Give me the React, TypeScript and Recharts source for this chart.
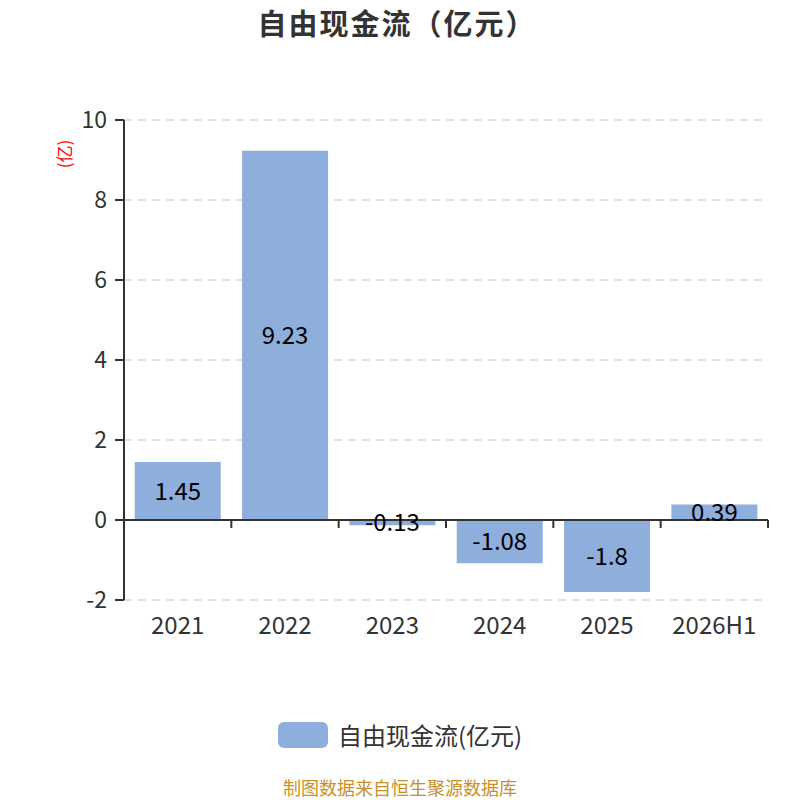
import React from "react"
import {
  Bar,
  BarChart,
  CartesianGrid,
  LabelList,
  ReferenceLine,
  XAxis,
  YAxis,
} from "recharts"

const categories = ["2021", "2022", "2023", "2024", "2025", "2026H1"]
const freeCashFlow = [1.45, 9.23, -0.13, -1.08, -1.8, 0.39]
const yTicks = [-2, 0, 2, 4, 6, 8, 10]

const seriesName = "自由现金流(亿元)"
const barColor = "#8eaedb"
const font = "'Noto Sans CJK SC', 'Noto Sans', sans-serif"

const data = categories.map((year, i) => ({ year, value: freeCashFlow[i] }))

export default function App() {
  return (
    <div
      style={{
        position: "absolute",
        left: 0,
        top: 0,
        width: 800,
        height: 800,
        background: "#fff",
        fontFamily: font,
        overflow: "hidden",
      }}
    >
      <div
        style={{
          position: "absolute",
          top: 4,
          left: 0,
          width: 794,
          textAlign: "center",
          fontSize: 29,
          letterSpacing: 2,
          lineHeight: "36px",
          fontWeight: "bold",
          color: "#333",
        }}
      >
        自由现金流（亿元）
      </div>
      <div
        style={{
          position: "absolute",
          left: 63,
          top: 154,
          transform: "translate(-50%, -50%) rotate(-90deg)",
          fontSize: 17,
          color: "#f00",
          whiteSpace: "nowrap",
        }}
      >
        (亿)
      </div>
      <BarChart
        width={800}
        height={800}
        data={data}
        margin={{ top: 120, right: 32, bottom: 170, left: 0 }}
        barCategoryGap="10%"
      >
        <CartesianGrid
          horizontal
          vertical={false}
          stroke="#c4c4c4"
          strokeDasharray="8 6"
        />
        <XAxis
          dataKey="year"
          height={30}
          axisLine={false}
          tickLine={false}
          tickSize={0}
          tickMargin={17}
          tick={{ fontSize: 24, fill: "#333", fontFamily: font }}
        />
        <YAxis
          width={124}
          domain={[-2, 10]}
          ticks={yTicks}
          interval={0}
          allowDataOverflow
          axisLine={{ stroke: "#333", strokeWidth: 2 }}
          tickLine={{ stroke: "#333", strokeWidth: 2 }}
          tickSize={9}
          tickMargin={8}
          tick={{ fontSize: 23, fill: "#333", fontFamily: font }}
        />
        <Bar
          dataKey="value"
          name={seriesName}
          fill={barColor}
          isAnimationActive={false}
        >
          <LabelList
            dataKey="value"
            position="center"
            fill="#000"
            fontSize={24}
            fontFamily={font}
          />
        </Bar>
        <ReferenceLine y={0} stroke="#333" strokeWidth={2} />
        {/* tick marks at the right edge of every category, hanging off zero */}
        {categories.map((c) => (
          <ReferenceLine
            key={c}
            position="end"
            segment={[
              { x: c, y: 0 },
              { x: c, y: -0.2 },
            ]}
            stroke="#333"
            strokeWidth={2}
          />
        ))}
      </BarChart>
      <div
        style={{
          position: "absolute",
          top: 722,
          left: 278,
          display: "flex",
          alignItems: "center",
        }}
      >
        <span
          style={{
            width: 50,
            height: 26,
            borderRadius: 6,
            background: barColor,
            display: "inline-block",
            marginRight: 10,
          }}
        />
        <span style={{ fontSize: 24, lineHeight: "26px", color: "#333" }}>
          {seriesName}
        </span>
      </div>
      <div
        style={{
          position: "absolute",
          top: 777,
          left: 0,
          width: 800,
          textAlign: "center",
          fontSize: 18,
          lineHeight: "20px",
          color: "#c8902a",
        }}
      >
        制图数据来自恒生聚源数据库
      </div>
    </div>
  )
}
